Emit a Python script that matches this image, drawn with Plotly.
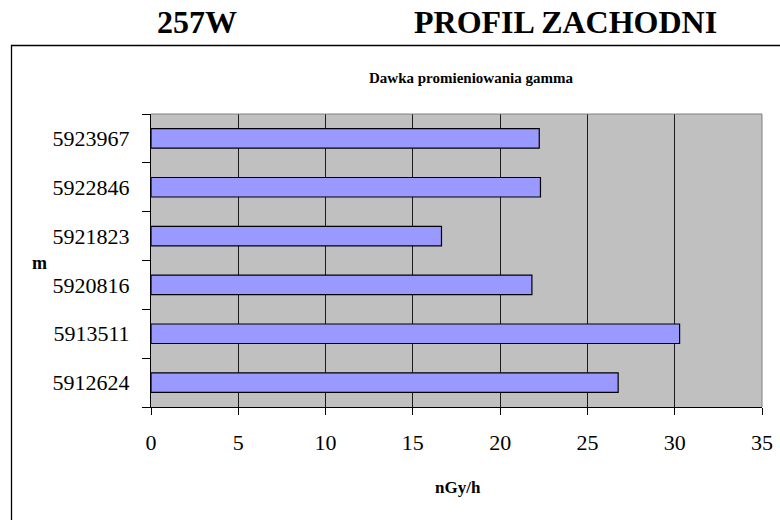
import plotly.graph_objects as go

categories = ["5912624", "5913511", "5920816", "5921823", "5922846", "5923967"]
dose = [26.76, 30.28, 21.82, 16.64, 22.31, 22.24]
x_ticks = [0, 5, 10, 15, 20, 25, 30, 35]

W, H = 780, 520
L, R, T, B = 151, 762, 114, 407
FONT = "Liberation Serif"


def px(x):
    return (x - L) / (R - L)


def py(y):
    return (B - y) / (B - T)


fig = go.Figure()
fig.add_trace(go.Bar(
    y=categories, x=dose, orientation="h",
    marker=dict(color="#9999FF", line=dict(color="#000000", width=1.2)),
    hoverinfo="x+y",
))

fig.update_layout(
    width=W, height=H,
    margin=dict(l=L, r=W - R, t=T, b=H - B, pad=0, autoexpand=False),
    paper_bgcolor="white", plot_bgcolor="#C0C0C0",
    bargap=0.6, showlegend=False,
    font=dict(family=FONT, color="black", size=22),
)

fig.update_xaxes(
    range=[0, 35], tickvals=x_ticks, ticktext=[str(v) for v in x_ticks],
    showgrid=True, gridcolor="#1a1a1a", gridwidth=1,
    showline=True, linecolor="black", linewidth=1,
    ticks="outside", ticklen=7, tickcolor="black",
    tickfont=dict(family=FONT, size=22), ticklabelstandoff=9,
    zeroline=False, fixedrange=True, automargin=False,
)
fig.update_yaxes(
    type="category", categoryorder="array", categoryarray=categories,
    showgrid=False, showline=True, linecolor="black", linewidth=1,
    ticks="outside", ticklen=8, tickcolor="black", tickson="boundaries",
    tickfont=dict(family=FONT, size=22), ticklabelstandoff=16,
    fixedrange=True, automargin=False,
)

# plot-area top/right border (gray) and outer chart frame
fig.add_shape(type="line", xref="paper", yref="paper", x0=0, x1=1, y0=1, y1=1,
              line=dict(color="#808080", width=1))
fig.add_shape(type="line", xref="paper", yref="paper", x0=1, x1=1, y0=0, y1=1,
              line=dict(color="#808080", width=1))
fig.add_shape(type="rect", xref="paper", yref="paper",
              x0=px(11.5), x1=px(800), y0=py(560), y1=py(45.5),
              line=dict(color="black", width=1.3), layer="below")

annotations = [
    dict(text="<b>257W</b>", x=px(197), y=py(22.5), size=32),
    dict(text="<b>PROFIL ZACHODNI</b>", x=px(565), y=py(22.5), size=32),
    dict(text="<b>Dawka promieniowania gamma</b>", x=px(471), y=py(78), size=15),
    dict(text="<b>nGy/h</b>", x=px(458), y=py(488), size=17),
    dict(text="<b>m</b>", x=px(39.5), y=py(263), size=18),
]
for a in annotations:
    fig.add_annotation(text=a["text"], x=a["x"], y=a["y"], xref="paper", yref="paper",
                       showarrow=False, xanchor="center", yanchor="middle",
                       font=dict(family=FONT, size=a["size"], color="black"))

# remove the default 8px page margin so the figure sits at the window origin
fig.write_html("out.html", config={"displayModeBar": False},
               post_script="document.body.style.margin='0';")
